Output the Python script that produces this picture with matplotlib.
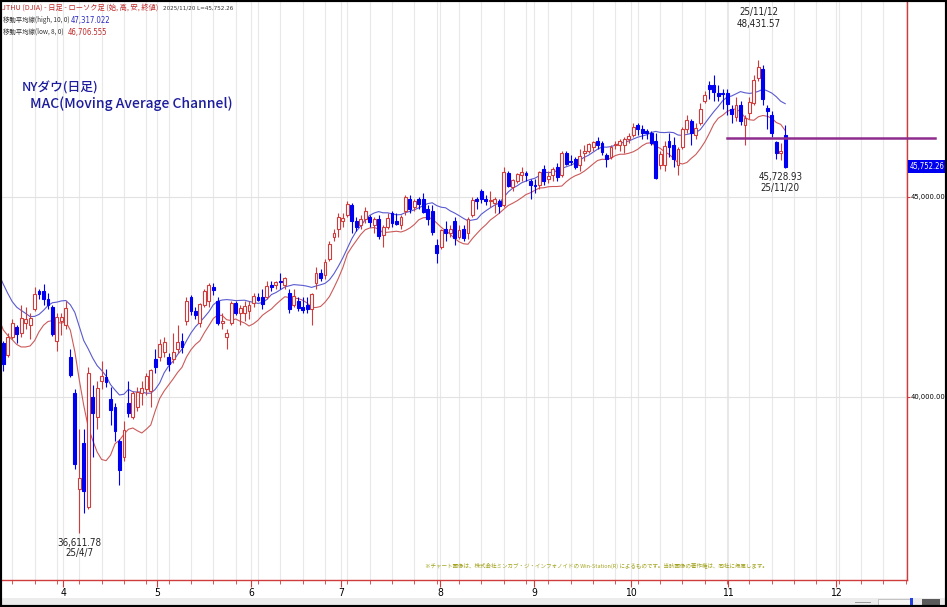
import numpy as np
import pandas as pd
import matplotlib
matplotlib.use('Agg')
import matplotlib.pyplot as plt
from matplotlib.patches import Rectangle
from matplotlib import font_manager
from matplotlib.font_manager import FontProperties

# NY Dow daily OHLC, 2025/2/26 .. 2025/11/20
# first 11 rows are off-screen, they only feed the moving averages
opens = [43600, 43500, 43300, 43900, 43000, 42500, 42800, 42500, 42600, 41900, 41700,
         # Mar 13 -
         41350, 41050, 41500, 41750, 41600, 41850, 41800, 42200, 42650, 42650, 42450, 42250, 41400,
         # Apr
         41900, 41800, 41000, 40100, 37700, 38850, 37250, 40000, 39500, 40400, 40500, 39950, 39750,
         38900, 38500, 39850, 39500, 39750, 40100, 40200, 40150,
         # May
         40950, 41000, 41125, 41000, 40950, 41200, 41400, 41900, 42500, 42150, 41850, 42300, 42400,
         42750, 42400, 41850, 41500, 41850, 42350, 42100, 42100,
         # Jun
         42150, 42350, 42500, 42500, 42500, 42800, 42800, 42900, 42800, 42600, 42300, 42400, 42250,
         42300, 42200, 42850, 43100, 43050, 43450, 44000,
         # Jul
         44200, 44400, 44550, 44800, 44400, 44300, 44450, 44500, 44300, 44450, 44050, 44250, 44600,
         44400, 44300, 44650, 44950, 44750, 44950, 44950, 44700, 44650,
         # Aug
         43800, 43750, 44200, 44100, 44400, 44000, 44200, 44100, 44550, 44950, 45150, 44950, 44900,
         44850, 44900, 44800, 45600, 45250, 45400, 45550, 45600,
         # Sep
         45400, 45300, 45300, 45700, 45450, 45550, 45750, 45550, 46100, 45900, 45950, 45800, 46100,
         46150, 46250, 46400, 46350, 46050, 46000, 46300, 46300,
         # Oct
         46300, 46450, 46550, 46800, 46700, 46650, 46600, 46400, 45800, 45800, 46400, 46300, 45800,
         46250, 46700, 46900, 46550, 46850, 47400, 47800, 47800, 47600, 47600,
         # Nov
         47600, 47200, 47000, 47300, 46800, 47100, 47350, 47975, 48200, 47225, 47050, 46375, 46100,
         46550]
highs = [43780, 43900, 43900, 44000, 43200, 43100, 43000, 42900, 42700, 42200, 41800,
         41400, 41600, 41950, 41800, 42300, 42250, 42100, 42750, 42700, 42820, 42600, 42300, 42100,
         42100, 42400, 41200, 40200, 39200, 39200, 40750, 40300, 40400, 40900, 40700, 40250, 39850,
         38950, 39400, 40400, 40150, 40250, 40400, 40600, 40700,
         41200, 41450, 41500, 41100, 41600, 41800, 41600, 42500, 42550, 42250, 42350, 42700, 42850,
         42850, 42500, 42100, 41700, 42400, 42400, 42300, 42400,
         42400, 42600, 42600, 42700, 42900, 42900, 42900, 43100, 43000, 42700, 42700, 42500, 42500,
         42500, 42600, 43250, 43200, 43450, 43900, 44200,
         44600, 44600, 44900, 44850, 44500, 44550, 44750, 44550, 44500, 44550, 44300, 44600, 44650,
         44600, 44550, 45050, 45050, 44950, 45000, 45100, 44800, 44800,
         43950, 44200, 44400, 44300, 44500, 44300, 44300, 44500, 45000, 45000, 45200, 45050, 45150,
         45000, 44950, 45750, 45650, 45450, 45600, 45750, 45650,
         45450, 45450, 45650, 45800, 45650, 45750, 45850, 46150, 46150, 46050, 46000, 46200, 46300,
         46350, 46400, 46500, 46400, 46100, 46300, 46400, 46450,
         46500, 46600, 46850, 46850, 46800, 46700, 46650, 46600, 46150, 46400, 46600, 46500, 46250,
         46750, 47050, 46950, 46850, 47350, 47650, 47900, 48050, 47800, 47700,
         47700, 47300, 47500, 47400, 47050, 47500, 48050, 48431.57, 48300, 47300, 47150, 46400, 46350,
         46800]
lows = [43200, 43200, 43000, 42900, 42100, 42300, 42300, 42000, 41700, 41250, 41100,
        40660, 41000, 41450, 41350, 41500, 41700, 41450, 42150, 42450, 42300, 42200, 41530, 41150,
        41550, 41700, 40500, 38200, 36611.78, 37100, 37200, 38500, 39200, 40200, 40250, 39300, 38900,
        37800, 38400, 39500, 39450, 39650, 39800, 40050, 39750,
        40600, 40900, 41000, 40650, 40850, 41100, 41100, 41800, 42050, 41950, 41750, 42250, 42250,
        42550, 41800, 41700, 41200, 41800, 42050, 41800, 41900,
        41950, 42250, 42400, 42200, 42450, 42650, 42700, 42700, 42700, 42100, 42250, 42150, 42100,
        42100, 41800, 42700, 42900, 42950, 43400, 43900,
        44000, 44250, 44500, 44100, 44150, 44200, 44350, 44250, 44100, 43950, 43750, 44200, 44250,
        44300, 44200, 44550, 44600, 44650, 44700, 44600, 44300, 44050,
        43350, 43700, 43900, 44000, 43800, 43950, 43900, 43950, 44500, 44700, 44850, 44800, 44750,
        44600, 44600, 44750, 45250, 45150, 45350, 45400, 45400,
        44950, 45100, 45200, 45300, 45350, 45400, 45400, 45500, 45800, 45800, 45700, 45650, 45900,
        46100, 46150, 46200, 46050, 45750, 45950, 46200, 46150,
        46100, 46350, 46500, 46550, 46450, 46450, 46300, 45450, 45700, 45650, 46000, 45750, 45550,
        46200, 46600, 46300, 46450, 46800, 47350, 47450, 47400, 47400, 47200,
        47050, 46850, 46900, 46800, 46300, 46950, 47300, 47900, 47300, 46700, 46500, 45950, 45925,
        45728.93]
closes = [43433, 43240, 43841, 43191, 42520, 43006, 42579, 42801, 41911, 41433, 41350,
          40813, 41488, 41842, 41581, 41965, 41953, 41985, 42583, 42587, 42455, 42300, 41584, 42002,
          41989, 42226, 40546, 38315, 37966, 37646, 40608, 39594, 40213, 40525, 40368, 39669, 39142,
          38170, 39187, 39606, 40093, 40114, 40227, 40527, 40669,
          40753, 41317, 41380, 40829, 41114, 41368, 41249, 42410, 42140, 42051, 42323, 42655, 42792,
          42677, 41860, 41900, 41603, 42343, 42098, 42215, 42270,
          42305, 42520, 42427, 42319, 42763, 42762, 42867, 42865, 42968, 42198, 42515, 42215, 42172,
          42207, 42582, 43089, 42982, 43386, 43819, 44095,
          44495, 44484, 44828, 44406, 44241, 44458, 44651, 44371, 44460, 44023, 44254, 44484, 44342,
          44323, 44502, 45010, 44694, 44901, 44837, 44632, 44461, 44130,
          43588, 44173, 44111, 44193, 43968, 44175, 43975, 44459, 44922, 44911, 44946, 44912, 44922,
          44938, 44785, 45631, 45282, 45418, 45565, 45636, 45545,
          45296, 45271, 45621, 45401, 45514, 45711, 45490, 46108, 45834, 45883, 45757, 46018, 46142,
          46315, 46381, 46292, 46121, 45947, 46247, 46316, 46398,
          46441, 46519, 46758, 46695, 46603, 46602, 46358, 45480, 46068, 46270, 46253, 45952, 46191,
          46707, 46925, 46590, 46735, 47207, 47545, 47706, 47632, 47522, 47563,
          47337, 47085, 47311, 46912, 46987, 47368, 47927, 48254, 47457, 47147, 46590, 46091, 46138,
          45752.26]
n_warmup = 11

month_pos = [13.4, 34.4, 55.4, 75.6, 97.7, 118.8, 140.5, 162.2, 186.4]
month_labels = ['4', '5', '6', '7', '8', '9', '10', '11', '12']
price_ticks = [40000, 45000]
support_level = 46480
last_price = 45752.26
ma_high_value = '47,317.022'
ma_low_value = '46,706.555'

RED = '#d03c3c'
BLUE = '#0000f0'
NAVY = '#1c1c9c'

# narrow digits like the terminal font, if a condensed face is installed
cond = [f.fname for f in font_manager.fontManager.ttflist
        if f.name == 'DejaVu Sans' and 'ondensed' in f.fname
        and 'Bold' not in f.fname and 'Oblique' not in f.fname]


def num_fp(size):
    if cond:
        return FontProperties(fname=cond[0], size=size)
    return FontProperties(family='Liberation Sans', size=size * 0.95)


jp = ['Noto Sans CJK JP', 'DejaVu Sans']

W, H = 947, 607
fig = plt.figure(figsize=(W / 100, H / 100), dpi=100)
fig.patch.set_facecolor('white')


def fx(px):
    return px / W


def fy(py):
    return 1 - py / H


ax = fig.add_axes([fx(2), fy(580), fx(907) - fx(2), fy(2) - fy(580)])

o = np.array(opens, dtype=float)
hi = np.array(highs, dtype=float)
lo = np.array(lows, dtype=float)
c = np.array(closes, dtype=float)
x = np.arange(len(o)) - n_warmup
up = c >= o

# candles
ax.vlines(x, lo, hi, colors=np.where(up, RED, BLUE), linewidth=0.8, zorder=3)
ax.bar(x, c - o, bottom=o, width=0.64,
       color=np.where(up, 'white', BLUE), edgecolor=np.where(up, RED, BLUE),
       linewidth=0.8, zorder=4)

# moving average channel
ma_high = pd.Series(hi).rolling(10).mean()
ma_low = pd.Series(lo).rolling(8).mean()
ax.plot(x, ma_high, color='#5a5ad0', lw=0.8, zorder=2)
ax.plot(x, ma_low, color='#cc5a5a', lw=0.8, zorder=2)

# support line
ax.plot([162, 208.5], [support_level, support_level], color='#8e2d8e', lw=1.8,
        clip_on=False, zorder=5)

ax.set_xlim((2 - 3.3) / 4.468, (907 - 3.3) / 4.468)
ax.set_ylim(35425, 49875)

ax.set_xticks(month_pos)
ax.set_xticklabels(month_labels, fontproperties=num_fp(7.5))
ax.set_xticks(np.arange(2, 203, 5), minor=True)
ax.yaxis.tick_right()
ax.set_yticks(price_ticks)
ax.set_yticklabels(['{:,.2f}'.format(v) for v in price_ticks], fontproperties=num_fp(5.4))
ax.tick_params(axis='x', which='major', colors=RED, labelcolor='black', length=5, pad=1)
ax.tick_params(axis='x', which='minor', colors=RED, length=3)
ax.tick_params(axis='y', colors=RED, labelcolor='black', length=2, pad=0.3)

ax.grid(True, which='minor', axis='x', color='#e8e8e8', lw=0.8)
ax.grid(True, which='major', axis='x', color='#e8e8e8', lw=0.8)
ax.grid(True, which='major', axis='y', color='#e2e2e2', lw=0.8)
ax.set_axisbelow(True)

for s in ['top', 'left']:
    ax.spines[s].set_visible(False)
for s in ['right', 'bottom']:
    ax.spines[s].set_color(RED)
    ax.spines[s].set_linewidth(1.0)

# high / low notes
i_hi = int(np.argmax(hi[n_warmup:])) + n_warmup
i_lo = int(np.argmin(lo[n_warmup:])) + n_warmup
note = dict(textcoords='offset points', ha='center', va='center',
            fontproperties=num_fp(7), color='#222222')
ax.annotate('{:,.2f}'.format(hi[i_hi]), xy=(x[i_hi], hi[i_hi]), xytext=(0, 26), **note)
ax.annotate('25/11/12', xy=(x[i_hi], hi[i_hi]), xytext=(0, 34.5), **note)
ax.annotate('{:,.2f}'.format(lo[i_lo]), xy=(x[i_lo], lo[i_lo]), xytext=(0, -7.5), **note)
ax.annotate('25/4/7', xy=(x[i_lo], lo[i_lo]), xytext=(0, -14.5), **note)
ax.annotate('{:,.2f}'.format(lo[-1]), xy=(x[-1], lo[-1]), xytext=(-3.5, -6.8), **note)
ax.annotate('25/11/20', xy=(x[-1], lo[-1]), xytext=(-3.5, -14.5), **note)

# last price box on the price scale
ax.annotate('{:,.2f}'.format(last_price), xy=(1, last_price),
            xycoords=('axes fraction', 'data'), xytext=(2.0, 0), textcoords='offset points',
            ha='left', va='center', fontproperties=num_fp(5.5), color='white',
            bbox=dict(boxstyle='square,pad=0.25', fc=BLUE, ec='none'), annotation_clip=False)

# header legend
fs = 4.6
fig.text(fx(2), fy(8), 'JTHU (DJIA) - 日足 - ローソク足 (始, 高, 安, 終値)', color='#c02828',
         fontsize=5.2, family=jp, va='center')
fig.text(fx(163), fy(8), '2025/11/20 L=45,752.26', color='#333333',
         fontproperties=num_fp(4.5), va='center')
fig.text(fx(3), fy(20), '移動平均線(high, 10, 0)', color='#333333', fontsize=fs,
         family=jp, va='center')
fig.text(fx(71), fy(20), ma_high_value, color='#2828c0', fontproperties=num_fp(5.6), va='center')
fig.text(fx(3), fy(32), '移動平均線(low, 8, 0)', color='#333333', fontsize=fs,
         family=jp, va='center')
fig.text(fx(68), fy(32), ma_low_value, color='#c02828', fontproperties=num_fp(5.6), va='center')

# title
fig.text(fx(22), fy(88), 'NYダウ(日足)', color=NAVY, fontsize=9.2, family=jp,
         va='center', fontweight='medium')
fig.text(fx(30), fy(104), 'MAC(Moving Average Channel)', color=NAVY, fontsize=10,
         family=jp, va='center', fontweight='medium')

# credit
fig.text(fx(425), fy(566), '※チャート画像は、株式会社ミンカブ・ジ・インフォノイドの Win-Station(R) によるものです。'
         '当該画像の著作権は、同社に帰属します。', color='#a3a320', fontsize=4.0, family=jp, va='center')

# bottom status strip with its little scroller, and the outer frame
fig.patches.append(Rectangle((0, 0), 1, fy(598), transform=fig.transFigure,
                             fc='#ececec', ec='none', zorder=0))
fig.patches.append(Rectangle((fx(855), fy(603)), fx(16), 1 / H, transform=fig.transFigure,
                             fc='#9a9a9a', ec='none', zorder=1))
fig.patches.append(Rectangle((fx(878), fy(605)), fx(34), fy(599) - fy(605),
                             transform=fig.transFigure, fc='#f6f6f6', ec='#b0b0b0',
                             lw=0.5, zorder=1))
fig.patches.append(Rectangle((fx(910), fy(606)), fx(3), fy(598) - fy(606),
                             transform=fig.transFigure, fc='#2040e0', ec='none', zorder=2))
fig.patches.append(Rectangle((fx(922), fy(605)), fx(18), fy(599) - fy(605),
                             transform=fig.transFigure, fc='#5a5a5a', ec='none', zorder=1))
fig.patches.append(Rectangle((0, 0), 1, 1, transform=fig.transFigure, fill=False,
                             ec='black', lw=3, zorder=10))

fig.savefig('out.png', dpi=100)
